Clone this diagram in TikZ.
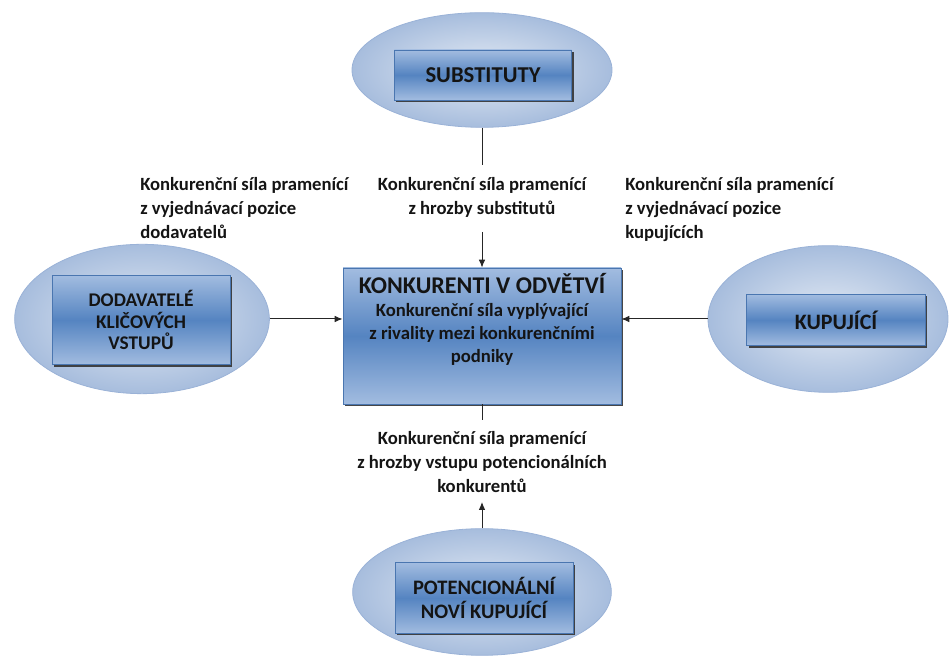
\documentclass[tikz,border=0pt]{standalone}
\usepackage{fontspec}
\setmainfont{Carlito}
\usetikzlibrary{shapes.geometric,shadows,arrows.meta}

\definecolor{ovalin}{HTML}{E3EAF4}
\definecolor{ovalout}{HTML}{A7BDDD}
\definecolor{ovaledge}{HTML}{9AB2D7}
\definecolor{boxlight}{HTML}{A2BCE0}
\definecolor{boxdark}{HTML}{5584C1}
\definecolor{boxedge}{HTML}{4A76B0}
\definecolor{txt}{HTML}{141414}

\tikzset{
  oval/.style={ellipse,draw=ovaledge,line width=0.6pt,inner color=ovalin,outer color=ovalout,inner sep=0pt},
  force/.style={rectangle,draw=boxedge,line width=0.6pt,top color=boxlight,bottom color=boxlight,middle color=boxdark,
    drop shadow={shadow xshift=1.4pt,shadow yshift=-1.4pt,fill=black!80,opacity=0.9},
    align=center,text=txt,inner sep=2pt,font=\fontsize{14.5}{16}\selectfont\bfseries},
  note/.style={text=txt,inner sep=0pt,font=\fontsize{14}{18}\selectfont\bfseries},
  link/.style={line width=0.75pt,black!85},
  arr/.style={link,-{Latex[length=6pt,width=5pt]}}
}

\begin{document}
\begin{tikzpicture}[x=0.75pt,y=0.75pt]
  \useasboundingbox (0,0) rectangle (949,666);

  %% the five forces
  \node [oval,minimum width=195pt,minimum height=86pt] (subst) at (482,596) {};
  \node [force,minimum width=133pt,minimum height=37.5pt,font=\fontsize{17}{19}\selectfont\bfseries] (substbox) at (483,591) {SUBSTITUTY};

  \node [oval,minimum width=191pt,minimum height=112pt] (dod) at (142,347) {};
  \node [force,minimum width=133.5pt,minimum height=67pt] (dodbox) at (141,346) {DODAVATELÉ\\KLIČOVÝCH\\VSTUPŮ};

  \node [oval,minimum width=180pt,minimum height=110pt] (kup) at (828,347) {};
  \node [force,minimum width=134pt,minimum height=38.5pt,font=\fontsize{16.5}{18}\selectfont\bfseries] (kupbox) at (836,346) {KUPUJÍCÍ};

  \node [oval,minimum width=194pt,minimum height=95pt] (novi) at (482,74) {};
  \node [force,minimum width=133.5pt,minimum height=53pt,font=\fontsize{15.4}{18.5}\selectfont\bfseries] (novibox) at (484,68) {POTENCIONÁLNÍ\\NOVÍ KUPUJÍCÍ};

  \node [force,minimum width=208.5pt,minimum height=102pt] (konk) at (482,330) {};
  \node [note,align=center,font=\fontsize{14}{17.25}\selectfont\bfseries] (konktxt) at (482,347)
    {{\fontsize{18}{20}\selectfont KONKURENTI V ODVĚTVÍ}\\Konkurenční síla vyplývající\\z rivality mezi konkurenčními\\podniky};

  %% connectors
  \coordinate (topgap1) at (482,501);
  \coordinate (topgap2) at (482,434);
  \coordinate (botgap1) at (482,246);
  \coordinate (botgap2) at (482,164);

  \draw [link] (subst.south) -- (topgap1);
  \draw [arr] (topgap2) -- (konk.north);
  \draw [arr] (dod.east) -- (dod.east -| konk.west);
  \draw [arr] (kup.west) -- (kup.west -| konk.east);
  \draw [link] (konk.south) -- (botgap1);
  \draw [arr] (novi.north) -- (botgap2);

  %% labels
  \node [note,align=left,anchor=north west] (dodnote) at (140,489)
    {Konkurenční síla pramenící\\z vyjednávací pozice\\dodavatelů};
  \node [note,align=center,anchor=north] (substnote) at (482,489)
    {Konkurenční síla pramenící\\z hrozby substitutů};
  \node [note,align=left,anchor=north west] (kupnote) at (625,489)
    {Konkurenční síla pramenící\\z vyjednávací pozice\\kupujících};
  \node [note,align=center,anchor=north] (novinote) at (482,235)
    {Konkurenční síla pramenící\\z hrozby vstupu potencionálních\\konkurentů};

\end{tikzpicture}
\end{document}
